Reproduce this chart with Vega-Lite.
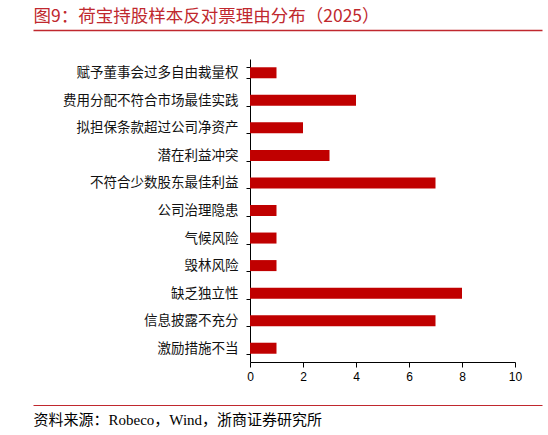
{
  "$schema": "https://vega.github.io/schema/vega-lite/v6.json",
  "autosize": {"type": "none"},
  "width": 265,
  "height": 303,
  "padding": {"left": 250, "top": 59, "right": 33, "bottom": 73},
  "background": "white",
  "config": {"view": {"stroke": null}},
  "data": {"values": [
    {"reason": "赋予董事会过多自由裁量权", "count": 1},
    {"reason": "费用分配不符合市场最佳实践", "count": 4},
    {"reason": "拟担保条款超过公司净资产", "count": 2},
    {"reason": "潜在利益冲突", "count": 3},
    {"reason": "不符合少数股东最佳利益", "count": 7},
    {"reason": "公司治理隐患", "count": 1},
    {"reason": "气候风险", "count": 1},
    {"reason": "毁林风险", "count": 1},
    {"reason": "缺乏独立性", "count": 8},
    {"reason": "信息披露不充分", "count": 7},
    {"reason": "激励措施不当", "count": 1}
  ]},
  "resolve": {"scale": {"x": "independent"}, "axis": {"x": "independent"}},
  "layer": [
    {
      "mark": {"type": "bar", "color": "#C00000"},
      "encoding": {
        "y": {"field": "reason", "type": "nominal", "sort": null,
          "scale": {"paddingInner": 0.6, "paddingOuter": 0.3},
          "axis": {"title": null, "labelFont": "Noto Sans CJK SC", "labelFontSize": 13.5, "labelColor": "#111",
            "labelPadding": 8, "tickBand": "extent", "tickSize": 4, "tickColor": "#000", "domainColor": "#000", "grid": false}},
        "x": {"field": "count", "type": "quantitative",
          "scale": {"domain": [0, 10]},
          "axis": {"title": null, "values": [0, 2, 4, 6, 8, 10], "labelFont": "Liberation Sans", "labelFontSize": 12,
            "labelFlush": false, "labelColor": "#000", "tickSize": 5, "tickColor": "#000", "domainColor": "#000", "grid": false, "labelPadding": 4}}
      }
    },
    {
      "data": {"values": [{"v": 0}]},
      "mark": {"type": "point", "opacity": 0},
      "encoding": {
        "x": {"field": "v", "type": "quantitative",
          "scale": {"domain": [0, 1], "range": [-217, 292]},
          "axis": {"orient": "top", "offset": 29, "ticks": false, "labels": false, "grid": false,
            "domainColor": "#C0282E", "domainWidth": 1.5,
            "title": "图9：荷宝持股样本反对票理由分布（2025）", "titleColor": "#C0282E", "titleFont": "Noto Sans CJK SC",
            "titleFontSize": 17.5, "titleFontWeight": "normal", "titleAnchor": "start", "titleAlign": "left", "titlePadding": 5}}
      }
    },
    {
      "data": {"values": [{"w": 0}]},
      "mark": {"type": "point", "opacity": 0},
      "encoding": {
        "x": {"field": "w", "type": "quantitative",
          "scale": {"domain": [0, 1], "range": [-217, 292]},
          "axis": {"orient": "bottom", "offset": 43, "ticks": false, "labels": false, "grid": false,
            "domainColor": "#C0282E", "domainWidth": 1,
            "title": "资料来源：Robeco，Wind，浙商证券研究所", "titleColor": "#000", "titleFont": "Liberation Serif, Noto Sans CJK SC",
            "titleFontSize": 15, "titleFontWeight": "normal", "titleAnchor": "start", "titleAlign": "left", "titlePadding": 7}}
      }
    }
  ]
}
